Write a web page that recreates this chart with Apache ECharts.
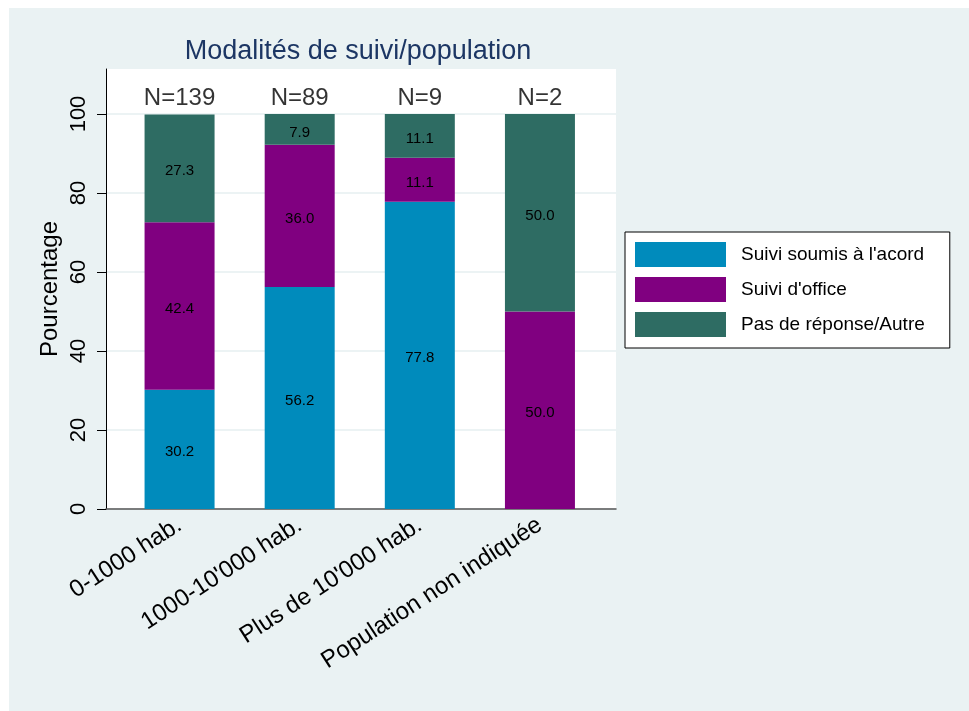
<!DOCTYPE html>
<html>
<head>
<meta charset="utf-8">
<script src="https://cdn.jsdelivr.net/npm/echarts@6/dist/echarts.min.js"></script>
<style>
html,body{margin:0;padding:0;background:#fff;}
#c{width:969px;height:711px;}
</style>
</head>
<body>
<div id="c"></div>
<script>
const categories = ["0-1000 hab.", "1000-10'000 hab.", "Plus de 10'000 hab.", "Population non indiquée"];
const seriesNames = ["Suivi soumis à l'acord", "Suivi d'office", "Pas de réponse/Autre"];
const acord = [30.2, 56.2, 77.8, 0];
const office = [42.4, 36.0, 11.1, 50.0];
const autre = [27.3, 7.9, 11.1, 50.0];
const counts = [139, 89, 9, 2];
const yTicks = [0, 20, 40, 60, 80, 100];

const FONT = "'Liberation Sans', Arial, sans-serif";
const colors = ['#008bbc', '#800080', '#2e6c63'];

const chart = echarts.init(document.getElementById('c'), null, {renderer: 'canvas'});

function barSeries(name, data, color) {
  return {
    name: name, type: 'bar', stack: 'total', xAxisIndex: 2, yAxisIndex: 2,
    barWidth: 70, data: data,
    itemStyle: {color: color},
    label: {
      show: true, position: 'inside', offset: [0, 3], color: '#000', fontSize: 15, fontFamily: FONT,
      formatter: p => (p.value === 0 ? '' : Number(p.value).toFixed(1))
    }
  };
}

const option = {
  backgroundColor: '#ffffff',
  animation: false,
  graphic: [{
    type: 'rect', z: -10, silent: true,
    shape: {x: 9, y: 8, width: 960, height: 703},
    style: {fill: '#eaf2f3'}
  }],
  title: {
    text: 'Modalités de suivi/population',
    left: 353, top: 33, textAlign: 'center',
    textStyle: {color: '#1c3664', fontSize: 27, fontWeight: 'normal', fontFamily: FONT}
  },
  legend: {
    orient: 'vertical', left: 625, top: 232,
    padding: [10, 25, 11, 10], itemGap: 10, itemWidth: 91, itemHeight: 25,
    backgroundColor: '#fff', borderColor: '#000', borderWidth: 1, borderRadius: 0,
    icon: 'rect',
    data: seriesNames,
    textStyle: {color: '#000', fontSize: 19, fontFamily: FONT, padding: [0, 0, 0, 10]}
  },
  grid: [
    {left: 106, top: 69, width: 510, height: 440, show: true, backgroundColor: '#fff', borderWidth: 0},
    {left: 106, top: 114, width: 510, height: 395},
    {left: 119.5, top: 114, width: 480.5, height: 395}
  ],
  xAxis: [
    {gridIndex: 0, type: 'value', min: 0, max: 1, position: 'bottom',
      axisLine: {show: true, lineStyle: {color: '#555', width: 1.5}},
      axisTick: {show: false}, axisLabel: {show: false}, splitLine: {show: false}},
    {gridIndex: 1, type: 'value', show: false},
    {gridIndex: 2, type: 'category', data: categories,
      axisLine: {show: false}, axisTick: {show: false},
      axisLabel: {interval: 0, rotate: 33, margin: 14, color: '#000', fontSize: 24, fontFamily: FONT}}
  ],
  yAxis: [
    {gridIndex: 0, type: 'value', min: 0, max: 1,
      axisLine: {show: true, lineStyle: {color: '#000', width: 1}},
      axisTick: {show: false}, axisLabel: {show: false}, splitLine: {show: false},
      name: 'Pourcentage', nameLocation: 'middle', nameGap: 44, nameRotate: 90,
      nameTextStyle: {color: '#000', fontSize: 24, fontFamily: FONT}},
    {gridIndex: 1, type: 'value', min: yTicks[0], max: yTicks[yTicks.length - 1], interval: 20,
      axisLine: {show: false},
      axisTick: {show: true, length: 9, lineStyle: {color: '#000', width: 1}},
      axisLabel: {rotate: 90, margin: 16, color: '#000', fontSize: 22, fontFamily: FONT},
      splitLine: {show: true, lineStyle: {color: '#e6eff1', width: 1.5}}},
    {gridIndex: 2, type: 'value', min: 0, max: 100, show: false}
  ],
  series: [
    barSeries(seriesNames[0], acord, colors[0]),
    barSeries(seriesNames[1], office, colors[1]),
    barSeries(seriesNames[2], autre, colors[2]),
    {
      type: 'scatter', xAxisIndex: 2, yAxisIndex: 2, symbolSize: 0, silent: true,
      data: counts.map(() => 100),
      label: {
        show: true, position: 'top', distance: 4, color: '#000', fontSize: 24, fontFamily: FONT,
        formatter: p => 'N=' + counts[p.dataIndex]
      }
    }
  ]
};
chart.setOption(option);
</script>
</body>
</html>
